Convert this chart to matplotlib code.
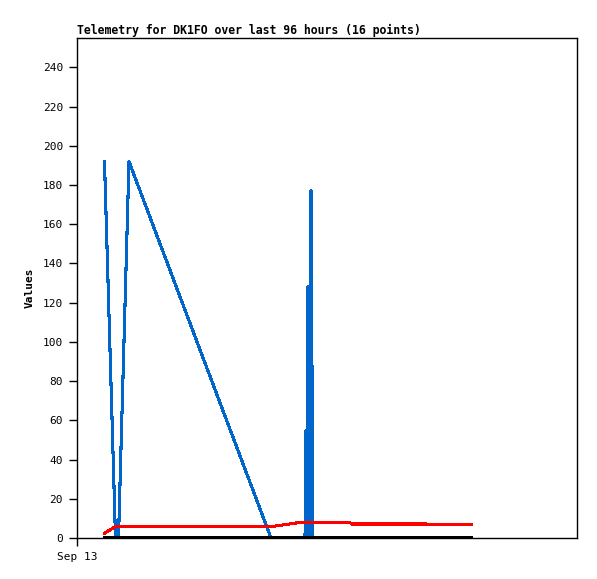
import matplotlib
matplotlib.use("Agg")
import matplotlib.pyplot as plt

# Time in hours since Sep 13 00:00
hours = [5.5, 7.7, 8.3, 10.4, 38.8, 41.6, 44.2, 45.6,
         45.8, 45.86, 46.0, 46.06, 46.2, 46.26, 46.4, 46.46, 46.6, 46.66, 46.8, 46.86, 47.0, 47.06,
         54.6, 55.0, 69.8, 70.2, 78.8]
blue_vals = [192, 0, 0, 192, 0, 0, 0, 0,
             55, 0, 55, 0, 128, 0, 88, 0, 88, 0, 177, 0, 88, 0,
             0, 0, 0, 0, 0]
red_vals = [2.5, 5.8, 5.8, 5.8, 5.8, 6.8, 7.8, 7.8,
            7.8, 7.8, 7.8, 7.8, 7.8, 7.8, 7.8, 7.8, 7.8, 7.8, 7.8, 7.8, 7.8, 7.8,
            7.8, 7.15, 7.15, 6.8, 6.8]
black_vals = [0] * len(hours)

title = "Telemetry for DK1FO over last 96 hours (16 points)"
ylabel = "Values"
xtick_label = "Sep 13"
yticks = list(range(0, 241, 20))

fig = plt.figure(figsize=(5.97, 5.79), dpi=100)
ax = fig.add_axes([77 / 597, 41 / 579, 500 / 597, 500 / 579])

ax.plot(hours, blue_vals, color="#0066cc", lw=1.5, antialiased=False)
ax.plot(hours, red_vals, color="#ff0000", lw=1.5, antialiased=False)
ax.plot(hours, black_vals, color="#000000", lw=1.6, antialiased=False)

ax.set_xlim(0, 100)
ax.set_ylim(0, 255)
ax.set_yticks(yticks)
ax.set_yticklabels([str(v) for v in yticks], family="DejaVu Sans Mono", fontsize=8)
ax.set_xticks([0])
ax.set_xticklabels([xtick_label], family="DejaVu Sans Mono", fontsize=8)
ax.tick_params(direction="out", length=6, width=1, pad=4)
for s in ax.spines.values():
    s.set_linewidth(1)

ax.set_ylabel(ylabel, family="DejaVu Sans Mono", fontweight="bold", fontsize=8, labelpad=6)
ax.set_title(title, family="DejaVu Sans Mono", fontweight="bold", fontsize=8.3, loc="left", pad=3)

fig.savefig("out.png", dpi=100)
